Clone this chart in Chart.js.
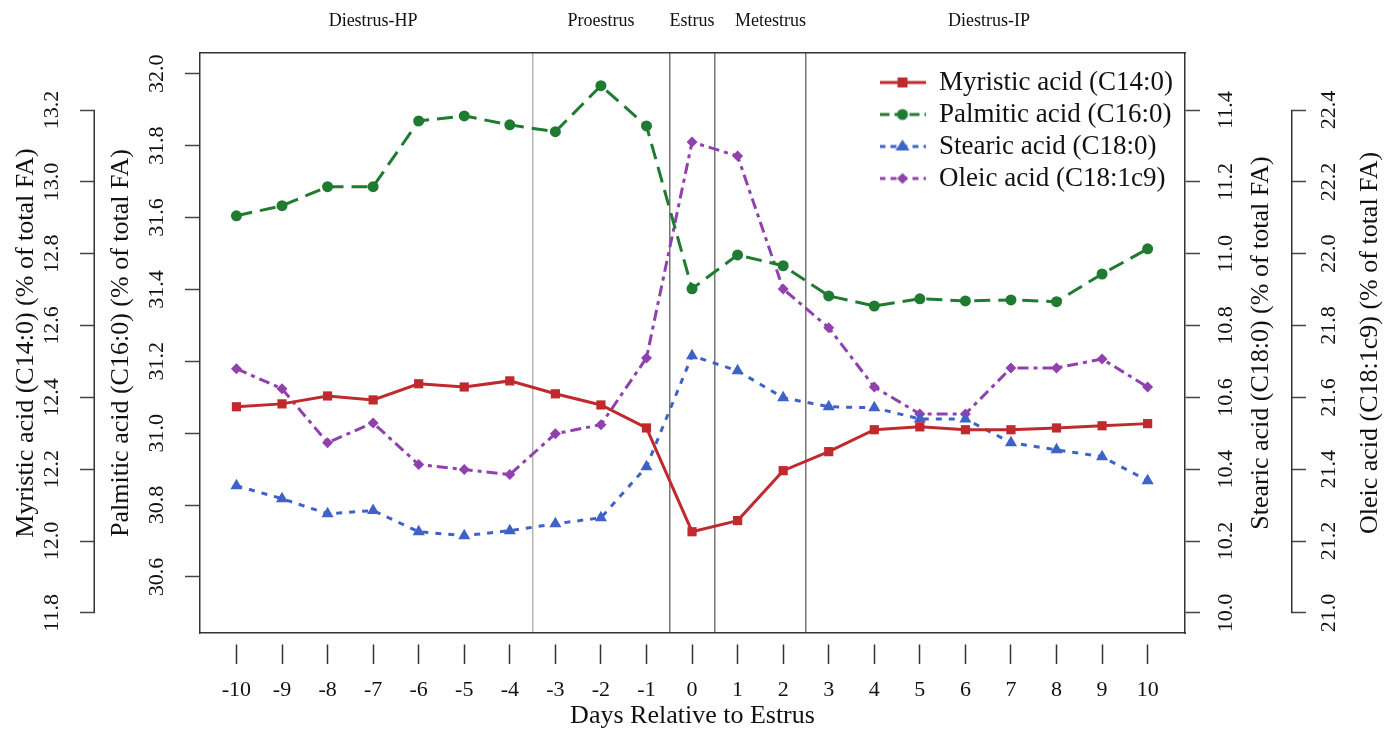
<!DOCTYPE html>
<html><head><meta charset="utf-8">
<script src="https://cdn.jsdelivr.net/npm/chart.js@4/dist/chart.umd.min.js"></script>
<style>html,body{margin:0;padding:0;background:#fff;} #wrap{width:1393px;height:729px;position:relative;}</style>
</head><body><div id="wrap"><canvas id="c"></canvas></div>
<script>
// ---------- data ----------
const days = [-10,-9,-8,-7,-6,-5,-4,-3,-2,-1,0,1,2,3,4,5,6,7,8,9,10];
const myristic = [12.374,12.382,12.404,12.393,12.438,12.429,12.446,12.410,12.379,12.315,12.026,12.057,12.196,12.249,12.310,12.318,12.310,12.310,12.315,12.321,12.327];
const palmitic = [31.605,31.633,31.686,31.686,31.869,31.883,31.858,31.839,31.967,31.855,31.402,31.496,31.466,31.382,31.354,31.374,31.368,31.371,31.366,31.443,31.513];
const stearic = [10.354,10.318,10.276,10.285,10.226,10.215,10.229,10.248,10.265,10.407,10.716,10.674,10.599,10.574,10.571,10.540,10.540,10.474,10.454,10.435,10.368];
const oleic = [21.680,21.624,21.474,21.529,21.413,21.399,21.385,21.499,21.524,21.710,22.311,22.272,21.902,21.794,21.629,21.554,21.554,21.682,21.682,21.707,21.629];
const seriesNames = ['Myristic acid (C14:0)','Palmitic acid (C16:0)','Stearic acid (C18:0)','Oleic acid (C18:1c9)'];
const myristicTicks = [11.8,12.0,12.2,12.4,12.6,12.8,13.0,13.2];
const palmiticTicks = [30.6,30.8,31.0,31.2,31.4,31.6,31.8,32.0];
const stearicTicks = [10.0,10.2,10.4,10.6,10.8,11.0,11.2,11.4];
const oleicTicks = [21.0,21.2,21.4,21.6,21.8,22.0,22.2,22.4];
const dayTicks = days;
const phaseNames = ['Diestrus-HP','Proestrus','Estrus','Metestrus','Diestrus-IP'];
const phaseCenters = [-7,-2,0,1.72,6.52];
const phaseBounds = [-3.5,-0.5,0.5,2.5];
const xTitle = 'Days Relative to Estrus';
const yTitles = ['Myristic acid (C14:0) (% of total FA)','Palmitic acid (C16:0) (% of total FA)','Stearic acid (C18:0) (% of total FA)','Oleic acid (C18:1c9) (% of total FA)'];

// ---------- styles ----------
const FONT = "'Liberation Serif','Times New Roman',serif";
const TXT = '#111';
const AX = '#333';
const colors = ['#BE2A2E','#1E7B30','#3F62C8','#9141AE'];
const dashes = [[],[16,8],[6,7],[11,5,4,5]];
const markers = ['rect','circle','triangle','rectRot'];
const radii = [6.5,5.5,7,5.5];
const XMIN = -10.8, XMAX = 10.82;

Chart.defaults.font.family = FONT;
Chart.defaults.color = TXT;

function legendIcon(i){
  const c = document.createElement('canvas');
  c.width = 46; c.height = 20;
  const g = c.getContext('2d');
  g.strokeStyle = colors[i]; g.fillStyle = colors[i]; g.lineWidth = 3;
  g.setLineDash(i===0?[]:(i===1?[10,5]:[6,5]));
  g.beginPath(); g.moveTo(0,10); g.lineTo(46,10); g.stroke();
  g.setLineDash([]);
  g.beginPath();
  if (i===0) { g.rect(18,5,10,10); }
  else if (i===1) { g.arc(23,10,5.5,0,Math.PI*2); }
  else if (i===2) { g.moveTo(23,3); g.lineTo(30,14); g.lineTo(16,14); g.closePath(); }
  else { g.moveTo(23,4.5); g.lineTo(28.5,10); g.lineTo(23,15.5); g.lineTo(17.5,10); g.closePath(); }
  g.fill();
  return c;
}
const legendIcons = [0,1,2,3].map(legendIcon);

const seriesData = [myristic, palmitic, stearic, oleic];
const axisIds = ['yM','yP','yS','yO'];
const datasets = seriesData.map((vals,i)=>({
  label: seriesNames[i],
  data: days.map((d,k)=>({x:d, y:vals[k]})),
  xAxisID: 'x',
  yAxisID: axisIds[i],
  borderColor: colors[i],
  backgroundColor: colors[i],
  borderWidth: 3,
  borderDash: dashes[i],
  pointStyle: markers[i],
  pointRadius: radii[i],
  pointBorderWidth: 0,
  pointBackgroundColor: colors[i],
  tension: 0,
  fill: false
}));

function yAxis(pos, weight, min, max, tickVals, pad, width, border, title){
  return {
    type:'linear', position:pos, weight:weight, min:min, max:max,
    afterBuildTicks: s => { s.ticks = tickVals.map(v=>({value:v})); },
    ticks:{callback:v=>Number(v).toFixed(1), font:{size:22}, color:TXT, minRotation:90, maxRotation:90, crossAlign:'center', padding:pad},
    grid:{drawOnChartArea:false, tickLength:15, tickColor:'#444', tickWidth:1.5},
    border:{display:border, color:AX, width:1.5},
    title: title ? {display:true, text:title, font:{size:26}, color:TXT, padding:{top:11,bottom:0}} : {display:false},
    afterFit: s => { s.width = width; }
  };
}

const decor = {
  id:'decor',
  beforeDraw(chart){
    const lg = chart.legend, ca = chart.chartArea;
    if (lg) { lg.left = ca.right - 310.5; lg.top = ca.top + 11; }
  },
  afterDraw(chart){
    const ctx = chart.ctx;
    ctx.save();
    ctx.strokeStyle = AX; ctx.lineWidth = 1.5;
    const yM = chart.scales.yM, yO = chart.scales.yO, yS = chart.scales.yS;
    ctx.beginPath();
    ctx.moveTo(yM.right-0.75, yM.getPixelForValue(myristicTicks[myristicTicks.length-1]));
    ctx.lineTo(yM.right-0.75, yM.getPixelForValue(myristicTicks[0]));
    ctx.moveTo(yO.left+0.75, yO.getPixelForValue(oleicTicks[oleicTicks.length-1]));
    ctx.lineTo(yO.left+0.75, yO.getPixelForValue(oleicTicks[0]));
    ctx.stroke();
    ctx.fillStyle = TXT;
    ctx.font = "26px " + FONT;
    ctx.textAlign = 'center'; ctx.textBaseline = 'middle';
    const cy = (chart.chartArea.top + chart.chartArea.bottom)/2;
    [[yS, yTitles[2], 30],[yO, yTitles[3], 23]].forEach(([s,t,off])=>{
      ctx.save(); ctx.translate(s.right - off, cy); ctx.rotate(-Math.PI/2); ctx.fillText(t,0,0); ctx.restore();
    });
    ctx.restore();
  }
};

new Chart(document.getElementById('c'), {
  type:'line',
  data:{datasets},
  options:{
    responsive:true, maintainAspectRatio:false, animation:false,
    layout:{padding:0},
    plugins:{
      tooltip:{enabled:false},
      legend:{
        position:'chartArea', align:'start',
        labels:{
          usePointStyle:true, pointStyleWidth:46, font:{size:27}, color:TXT, padding:5,
          generateLabels: chart => chart.data.datasets.map((ds,i)=>({
            text: ds.label, pointStyle: legendIcons[i], fillStyle: ds.borderColor,
            strokeStyle: ds.borderColor, lineWidth:0, hidden:false, datasetIndex:i, fontColor:TXT
          }))
        }
      }
    },
    scales:{
      x:{
        type:'linear', position:'bottom', weight:0, min:XMIN, max:XMAX,
        afterBuildTicks: s => { s.ticks = dayTicks.map(v=>({value:v})); },
        ticks:{callback:v=>String(v), font:{size:22}, color:TXT, padding:13, maxRotation:0, autoSkip:false},
        grid:{drawOnChartArea:false, tickLength:31, tickColor:AX, tickWidth:1.5, tickBorderDash:[0,11,20,200]},
        border:{display:true, color:AX, width:1.5},
        title:{display:true, text:xTitle, font:{size:26}, color:TXT, padding:{top:0,bottom:-3}},
        afterFit: s => { s.height = 96; }
      },
      xPhase:{
        type:'linear', position:'top', min:XMIN, max:XMAX,
        afterBuildTicks: s => { s.ticks = phaseCenters.map(v=>({value:v})); },
        ticks:{callback:(v,i)=>phaseNames[i], font:{size:18}, color:TXT, padding:13, maxRotation:0, autoSkip:false},
        grid:{display:false},
        border:{display:true, color:AX, width:1.5},
        afterFit: s => { s.height = 53; }
      },
      xBounds:{
        type:'linear', position:'bottom', weight:5, min:XMIN, max:XMAX,
        afterBuildTicks: s => { s.ticks = phaseBounds.map(v=>({value:v})); },
        ticks:{display:false},
        grid:{drawTicks:false, color: c => c.index===0 ? '#b5b5b5' : '#777', lineWidth:1.5},
        border:{display:false},
        afterFit: s => { s.height = 0; }
      },
      yM: yAxis('left', 2, 11.744, 13.359, myristicTicks, 9, 95, false, yTitles[0]),
      yP: yAxis('left', 1, 30.444, 32.058, palmiticTicks, 9, 105, true, yTitles[1]),
      yS: yAxis('right', 1, 9.944, 11.559, stearicTicks, 7, 106, true, null),
      yO: yAxis('right', 2, 20.944, 22.559, oleicTicks, 4, 102, false, null)
    }
  },
  plugins:[decor]
});
</script>
</body></html>
